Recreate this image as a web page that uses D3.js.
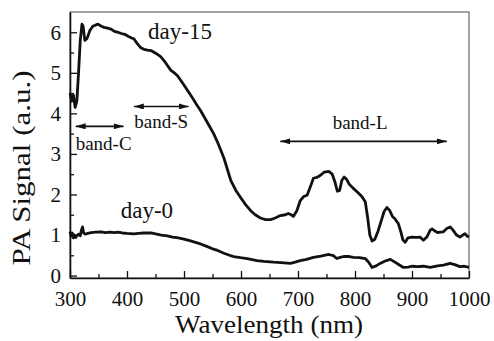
<!DOCTYPE html>
<html>
<head>
<meta charset="utf-8">
<script src="https://cdn.jsdelivr.net/npm/d3@7"></script>
<style>
  body { margin: 0; background: #fff; }
  svg text { font-family: "Liberation Serif", serif; fill: #111; }
</style>
</head>
<body>
<div id="chart"></div>
<script>
// ---- data ----
const wave15 = [300,303,306,309,312,315,318,321,323,326,330,335,340,349,355,360,366,372,378,384,390,396,402,408,412,418,424,430,436,442,448,454,459,465,471,477,483,489,495,500,506,515,522,529,540,552,560,570,582,591,599,608,617,625,634,643,652,660,669,678,683,688,692,698,704,710,716,722,727,733,740,746,754,760,765,769,773,777,781,785,790,797,805,812,818,822,826,830,835,840,846,851,856,861,866,870,876,880,884,888,893,900,908,914,920,926,932,935,940,945,950,955,961,967,972,978,984,989,993,997,1000];
const day15 = [4.5,4.3,4.45,4.15,4.3,5.0,5.8,6.2,6.15,5.8,5.85,6.05,6.15,6.2,6.15,6.12,6.1,6.08,6.02,6.0,5.97,5.95,5.9,5.86,5.84,5.72,5.62,5.58,5.56,5.55,5.5,5.45,5.4,5.3,5.18,5.06,5.0,4.92,4.8,4.7,4.57,4.38,4.22,4.07,3.8,3.5,3.25,2.9,2.35,2.1,1.93,1.75,1.6,1.5,1.42,1.38,1.38,1.42,1.48,1.5,1.53,1.5,1.46,1.6,1.85,1.95,1.98,2.2,2.4,2.42,2.48,2.55,2.57,2.5,2.3,2.08,2.1,2.35,2.43,2.38,2.25,2.15,2.05,1.95,1.82,1.45,1.0,0.85,0.9,1.08,1.35,1.58,1.68,1.6,1.45,1.4,1.28,1.1,0.88,0.82,0.93,0.95,0.94,0.95,0.87,0.95,1.12,1.15,1.1,1.06,1.07,1.08,1.16,1.2,1.12,1.0,0.95,1.0,1.03,0.97,0.95];

const wave0 = [300,302,304,306,308,310,312,315,318,320,322,324,327,331,337,345,354,362,370,378,384,392,400,412,420,430,442,450,460,471,480,490,500,510,520,529,540,550,559,570,580,587,599,611,628,640,657,670,687,695,704,715,727,740,754,762,768,774,780,790,797,808,818,824,830,837,844,853,862,870,878,885,893,901,909,920,932,945,955,967,975,984,992,1000];
const day0 = [1.08,0.97,1.05,0.93,1.0,0.94,0.98,1.02,0.98,1.12,1.2,1.05,1.02,1.04,1.06,1.07,1.08,1.06,1.07,1.06,1.07,1.05,1.04,1.03,1.04,1.05,1.05,1.03,1.0,0.98,0.95,0.93,0.9,0.86,0.82,0.78,0.72,0.66,0.62,0.55,0.5,0.47,0.44,0.42,0.37,0.35,0.33,0.32,0.3,0.33,0.37,0.4,0.45,0.48,0.52,0.49,0.42,0.45,0.47,0.47,0.45,0.44,0.42,0.33,0.2,0.24,0.3,0.36,0.4,0.33,0.26,0.2,0.21,0.23,0.22,0.23,0.2,0.24,0.26,0.3,0.27,0.22,0.23,0.2];

const xTicks = [300,400,500,600,700,800,900,1000];
const yTicks = [0,1,2,3,4,5,6];

// curve labels: [text, wavelength, signal]
const curveLabels = [["day-15", 493, 5.96], ["day-0", 435, 1.54]];
// band arrows: [name, from nm, to nm, level]
const bands = [["band-C", 310, 394, 3.68], ["band-S", 412, 508, 4.17], ["band-L", 669, 961, 3.31]];

// ---- chart ----
const svgWidth = 494, svgHeight = 341;
const margin = { top: 12, right: 25, bottom: 63, left: 70 };
const chartWidth = svgWidth - margin.left - margin.right;
const chartHeight = svgHeight - margin.top - margin.bottom;
const serif = '"Liberation Serif", serif';

let svg = d3.select('#chart').append('svg')
            .attr('width', svgWidth).attr('height', svgHeight)
            .attr('font-family', serif);

let defs = svg.append('defs');
defs.append('marker').attr('id', 'head')
    .attr('viewBox', '0 0 10 6').attr('refX', 10).attr('refY', 3)
    .attr('markerWidth', 10).attr('markerHeight', 6)
    .attr('markerUnits', 'userSpaceOnUse').attr('orient', 'auto-start-reverse')
  .append('path').attr('d', 'M0,0L10,3L0,6Z').attr('fill', '#111');

let g = svg.append('g').attr('transform', `translate(${margin.left}, ${margin.top})`);

let x = d3.scaleLinear().domain([300, 1000]).range([0, chartWidth]);
let y = d3.scaleLinear().domain([-0.06, 6.5]).range([chartHeight, 0]);

// frame (top / right)
g.append('rect').attr('width', chartWidth).attr('height', chartHeight)
 .attr('fill', 'none').attr('stroke', '#666').attr('stroke-width', 1.2);

// minor ticks
g.append('g').attr('transform', `translate(0, ${chartHeight})`)
 .call(d3.axisBottom(x).tickValues(d3.range(350, 1000, 100)).tickSize(-4).tickFormat(''))
 .call(a => a.select('.domain').remove());
g.append('g')
 .call(d3.axisLeft(y).tickValues(d3.range(0.5, 6.5, 1)).tickSize(-4).tickFormat(''))
 .call(a => a.select('.domain').remove());

// major axes
let xAxis = g.append('g').attr('transform', `translate(0, ${chartHeight})`)
             .call(d3.axisBottom(x).tickValues(xTicks).tickFormat(d3.format('d'))
                     .tickSize(-7).tickSizeOuter(0).tickPadding(13));
let yAxis = g.append('g')
             .call(d3.axisLeft(y).tickValues(yTicks).tickFormat(d3.format('d'))
                     .tickSize(-7).tickSizeOuter(0).tickPadding(9));

[xAxis, yAxis].forEach(a => {
  a.attr('font-family', serif).attr('font-size', 21);
  a.select('.domain').attr('stroke', '#111').attr('stroke-width', 1.6);
  a.selectAll('.tick text').attr('fill', '#111');
});
svg.selectAll('.tick line').attr('stroke', '#111').attr('stroke-width', 1.3);

// curves
let line = d3.line().x(d => x(d[0])).y(d => y(d[1])).curve(d3.curveLinear);
g.append('path').datum(d3.zip(wave15, day15))
 .attr('d', line).attr('fill', 'none').attr('stroke', '#111')
 .attr('stroke-width', 2.8).attr('stroke-linejoin', 'round');
g.append('path').datum(d3.zip(wave0, day0))
 .attr('d', line).attr('fill', 'none').attr('stroke', '#111')
 .attr('stroke-width', 2.8).attr('stroke-linejoin', 'round');

// curve labels
g.selectAll('.clabel').data(curveLabels).join('text')
 .attr('x', d => x(d[1])).attr('y', d => y(d[2]))
 .attr('font-size', 23).attr('text-anchor', 'middle')
 .attr('dominant-baseline', 'middle')
 .text(d => d[0]);

// band arrows
g.selectAll('.band').data(bands).join('line')
 .attr('x1', d => x(d[1])).attr('x2', d => x(d[2]))
 .attr('y1', d => y(d[3])).attr('y2', d => y(d[3]))
 .attr('stroke', '#111').attr('stroke-width', 1.6)
 .attr('marker-start', 'url(#head)').attr('marker-end', 'url(#head)');

let bandText = [
  { t: bands[0][0], nm: 359, v: 3.2 },
  { t: bands[1][0], nm: 460, v: 3.74 },
  { t: bands[2][0], nm: 809, v: 3.71 }
];
g.selectAll('.btext').data(bandText).join('text')
 .attr('x', d => x(d.nm)).attr('y', d => y(d.v))
 .attr('font-size', 19).attr('text-anchor', 'middle')
 .attr('dominant-baseline', 'middle')
 .text(d => d.t);

// axis titles
svg.append('text').attr('x', 269).attr('y', 327)
   .attr('font-size', 25).attr('text-anchor', 'middle').attr('dominant-baseline', 'middle')
   .attr('textLength', 188).attr('lengthAdjust', 'spacingAndGlyphs')
   .text('Wavelength (nm)');
svg.append('text').attr('transform', 'translate(24, 168) rotate(-90)')
   .attr('font-size', 25).attr('text-anchor', 'middle').attr('dominant-baseline', 'middle')
   .attr('textLength', 195).attr('lengthAdjust', 'spacingAndGlyphs')
   .text('PA Signal (a.u.)');
</script>
</body>
</html>
